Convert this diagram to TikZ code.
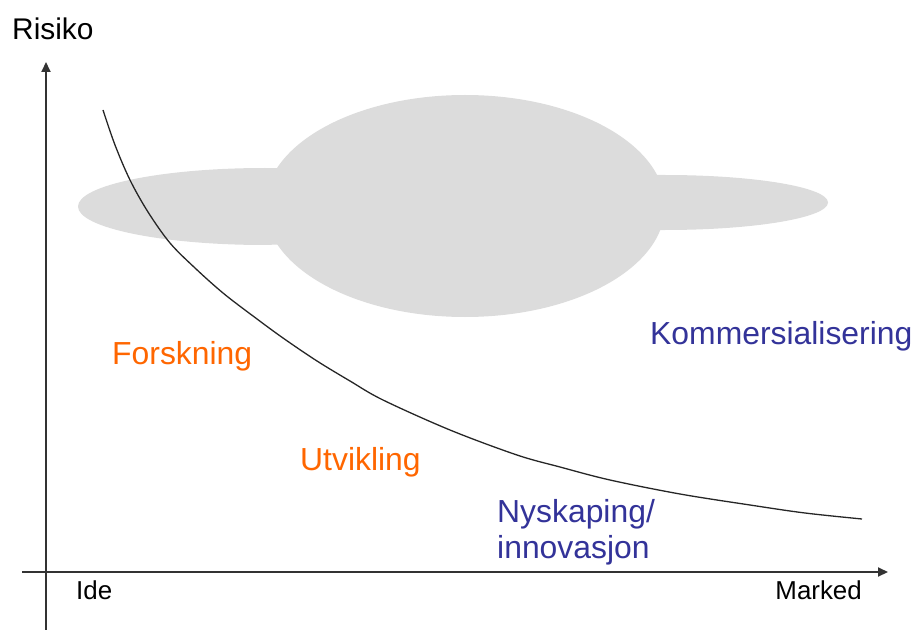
\documentclass[tikz,border=0pt]{standalone}
\usepackage{fontspec}
\setmainfont{Liberation Sans}
\usetikzlibrary{arrows.meta}
\definecolor{orangeT}{HTML}{FF6600}
\definecolor{blueT}{HTML}{333399}
\definecolor{cloudG}{HTML}{DCDCDC}
\tikzset{
  axisline/.style={line width=2bp, draw=black!80, -{Triangle[length=10bp,width=9bp]}},
  phase/.style={anchor=base west, inner sep=0pt, font=\fontsize{32}{36}\selectfont},
  axislabel/.style={inner sep=0pt, font=\fontsize{26}{30}\selectfont},
  riskcurve/.style={line width=1.3bp, draw=black!85},
  cloud/.style={fill=cloudG, draw=none}
}
\begin{document}
\begin{tikzpicture}[x=1bp,y=-1bp]
\useasboundingbox (0,0) rectangle (912,630);
% cloud
\fill[cloud] (265,168) arc[start angle=-90,end angle=-270,x radius=187,y radius=38.5]
  -- (665,230) arc[start angle=90,end angle=-90,x radius=163,y radius=27.5] -- cycle;
\fill[cloud] (465,206) ellipse[x radius=200,y radius=111];
% axes
\coordinate (yb) at (46,630);
\coordinate (yt) at (46,62);
\coordinate (xl) at (22,572);
\coordinate (xr) at (888,572);
\draw[axisline] (yb) -- (yt);
\draw[axisline] (xl) -- (xr);
% curve
\draw[riskcurve] plot[smooth,tension=0.55] coordinates {(103,110) (115,145) (130,180) (148,212) (170,243) (195,268) (223,293) (253,316) (283,338) (317,361) (350,381) (383,400) (450,430) (517,455) (560,467) (610,480) (680,494) (750,505) (805,513) (862,519)};
% labels
\node[phase, font=\fontsize{30}{34}\selectfont] (risiko) at (12,40) {Risiko};
\node[axislabel, anchor=base west] (ide) at (76,599) {Ide};
\node[axislabel, anchor=base east] (marked) at (862,599) {Marked};
\node[phase, text=orangeT] (forsk) at (112,364) {Forskning};
\node[phase, text=orangeT] (utv) at (300,470) {Utvikling};
\node[phase, text=blueT] (komm) at (650,344) {Kommersialisering};
\node[phase, text=blueT] (nysk) at (497,522) {Nyskaping/};
\node[phase, text=blueT] (innov) at (497,558) {innovasjon};
\end{tikzpicture}
\end{document}
